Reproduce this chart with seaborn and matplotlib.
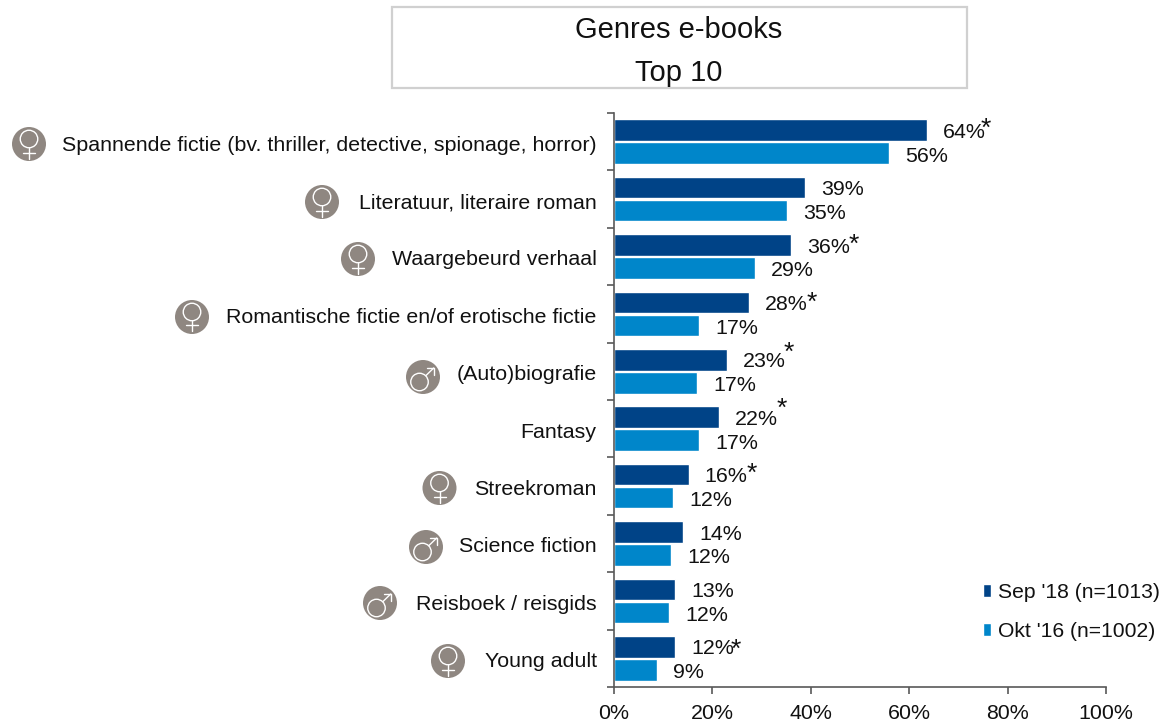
import matplotlib
matplotlib.use("Agg")
import matplotlib.pyplot as plt
from matplotlib.lines import Line2D
from matplotlib.patches import Ellipse, Rectangle
from matplotlib.ticker import FixedLocator, FixedFormatter
from matplotlib.transforms import ScaledTranslation
import seaborn as sns
import pandas as pd

W, H = 1163, 723

genres = ["Spannende fictie (bv. thriller, detective, spionage, horror)",
          "Literatuur, literaire roman", "Waargebeurd verhaal",
          "Romantische fictie en/of erotische fictie", "(Auto)biografie",
          "Fantasy", "Streekroman", "Science fiction",
          "Reisboek / reisgids", "Young adult"]
sep18 = [63.6, 38.8, 36.0, 27.4, 23.0, 21.3, 15.2, 14.0, 12.4, 12.4]
okt16 = [55.9, 35.2, 28.7, 17.3, 16.9, 17.3, 12.0, 11.6, 11.2, 8.7]
sep18_labels = ["64%", "39%", "36%", "28%", "23%", "22%", "16%", "14%", "13%", "12%"]
okt16_labels = ["56%", "35%", "29%", "17%", "17%", "17%", "12%", "12%", "12%", "9%"]
gender = ["f", "f", "f", "f", "m", None, "f", "m", "m", "f"]
series_names = ["Sep '18 (n=1013)", "Okt '16 (n=1002)"]
colors = ["#004387", "#0086CA"]

# star offsets from the end of the dark bar, in pixels (None = no star)
star_dx = [59, None, 63, 63, 62, 63, 63, None, None, 61]
star_dy = [4, None, 3, 3, 10, 11, 4, None, None, 0]

sns.set_theme(style="white")
plt.rcParams["font.family"] = ["Liberation Sans", "DejaVu Sans"]
text_color = "#111111"
label_size = 15.4

df = pd.DataFrame({"genre": genres * 2,
                   "value": sep18 + okt16,
                   "series": [series_names[0]] * 10 + [series_names[1]] * 10})

fig = plt.figure(figsize=(W / 100, H / 100), dpi=100)
ax = fig.add_axes([614 / W, 1 - 687 / H, 492 / W, 574 / H])

sns.barplot(data=df, x="value", y="genre", hue="series", palette=colors,
            width=0.8, gap=0.06, saturation=1, ax=ax)
ax.set_xlim(0, 100)
ax.set_ylim(9.5, -0.5)
ax.set_xlabel("")
ax.set_ylabel("")

# axis ticks sit between the categories, the labels in the middle
ax.yaxis.set_major_locator(FixedLocator([i - 0.5 for i in range(11)]))
ax.yaxis.set_major_formatter(FixedFormatter([""] * 11))
ax.yaxis.set_minor_locator(FixedLocator(list(range(10))))
ax.yaxis.set_minor_formatter(FixedFormatter(genres))
ax.tick_params(axis="y", which="major", left=True, length=5, width=1.2, color="#595959")
ax.tick_params(axis="y", which="minor", left=False, length=0, pad=12.5, labelsize=label_size, labelcolor=text_color)
ax.set_xticks(range(0, 101, 20))
ax.set_xticklabels([f"{v}%" for v in range(0, 101, 20)])
ax.tick_params(axis="x", bottom=True, length=5, width=1.2, color="#595959", pad=7.5,
               labelsize=label_size, labelcolor=text_color)
for side in ["top", "right"]:
    ax.spines[side].set_visible(False)
for side in ["left", "bottom"]:
    ax.spines[side].set_color("#595959")
    ax.spines[side].set_linewidth(1.2)

down = ScaledTranslation(0, -1.5 / 100, fig.dpi_scale_trans)
for lab in ax.get_yticklabels(minor=True):
    lab.set_transform(lab.get_transform() + down)

# value labels
for i in range(10):
    ax.annotate(sep18_labels[i], (sep18[i], i - 0.2), xytext=(16, -2), textcoords="offset pixels",
                va="center", fontsize=label_size, color=text_color)
    ax.annotate(okt16_labels[i], (okt16[i], i + 0.2), xytext=(16, -3), textcoords="offset pixels",
                va="center", fontsize=label_size, color=text_color)
    if star_dx[i] is not None:
        ax.annotate("*", (sep18[i], i - 0.2), xytext=(star_dx[i], star_dy[i] - 3), textcoords="offset pixels",
                    va="center", ha="center", fontsize=19, color=text_color)


def fx(px):
    return px / W


def fy(px):
    return 1 - px / H


def white_line(xs, ys):
    fig.add_artist(Line2D([fx(x) for x in xs], [fy(y) for y in ys], color="white", linewidth=1.0,
                          transform=fig.transFigure))


def draw_icon(cx, cy, kind):
    fig.add_artist(Ellipse((fx(cx), fy(cy)), 34 / W, 34 / H, transform=fig.transFigure,
                           facecolor="#8F8781", edgecolor="none"))
    # ring of the symbol, built in pixels so that it stays round
    if kind == "f":
        rx, ry = cx, cy - 5
        white_line([cx, cx], [cy + 3.7, cy + 14.5])
        white_line([cx - 6, cx + 6], [cy + 8.5, cy + 8.5])
    else:
        rx, ry = cx - 3.5, cy + 5
        white_line([rx + 6.4, cx + 10.7], [ry - 6.4, cy - 9])
        white_line([cx + 3.5, cx + 10.7, cx + 10.7], [cy - 9, cy - 9, cy - 2])
    fig.add_artist(Ellipse((fx(rx), fy(ry)), 17.5 / W, 17.5 / H, transform=fig.transFigure,
                           facecolor="none", edgecolor="white", linewidth=1.0))


# title box
fig.add_artist(Rectangle((fx(391.5), fy(88)), 575 / W, 81 / H, transform=fig.transFigure,
                         facecolor="white", edgecolor="#D0D0D0", linewidth=1.6))
fig.text(fx(679), fy(30), "Genres e-books", ha="center", va="center", fontsize=21, color=text_color)
fig.text(fx(679), fy(73), "Top 10", ha="center", va="center", fontsize=21, color=text_color)

# gender icons next to the labels
icon_x = [29, 322, 358, 192, 423, None, 439.5, 426, 380, 448]
icon_y = [144, 202, 259, 317, 377, None, 488, 547, 603, 661]
for i in range(10):
    if gender[i] is not None:
        draw_icon(icon_x[i], icon_y[i], gender[i])

leg = ax.legend(loc="lower left", bbox_to_anchor=(369 / 492, 46 / 574), frameon=False,
                fontsize=15.2, handlelength=0.4, handleheight=0.55, handletextpad=0.33,
                labelspacing=0.96, borderpad=0, borderaxespad=0)
for t in leg.get_texts():
    t.set_color(text_color)

fig.savefig("out.png", dpi=100)
